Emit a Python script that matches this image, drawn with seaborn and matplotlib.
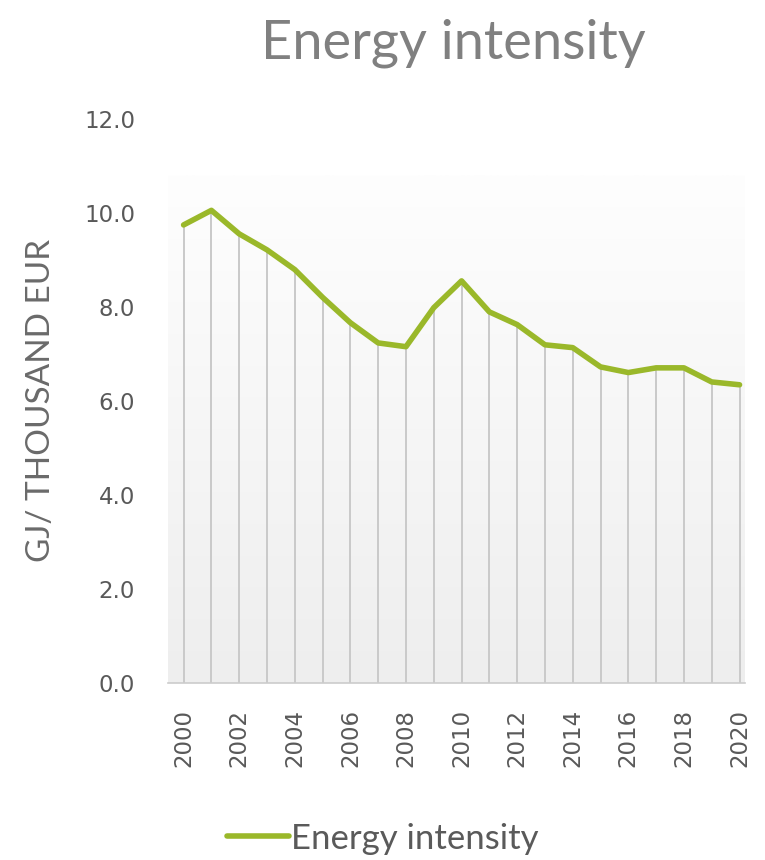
import numpy as np
import pandas as pd
import matplotlib
matplotlib.use("Agg")
import matplotlib.pyplot as plt
import seaborn as sns

years = list(range(2000, 2021))
intensity = [9.74, 10.05, 9.55, 9.21, 8.79, 8.20, 7.66, 7.23, 7.15, 7.98, 8.55,
             7.89, 7.62, 7.19, 7.13, 6.72, 6.60, 6.70, 6.70, 6.40, 6.34]
y_ticks = [0, 2, 4, 6, 8, 10, 12]
x_ticks = list(range(2000, 2021, 2))

sns.set_theme(style="white")
plt.rcParams["font.family"] = ["Lato", "DejaVu Sans"]

df = pd.DataFrame({"Year": years, "Energy intensity": intensity})

fig = plt.figure(figsize=(7.65, 8.6), dpi=100)
ax = fig.add_axes([0.22, 0.206, 0.754, 0.656])

# light gradient plot-area background
grad = np.linspace(0, 1, 256).reshape(-1, 1)
cmap = matplotlib.colors.LinearSegmentedColormap.from_list("bg", ["#eeeeee", "#fefefe"])
ax.imshow(grad, aspect="auto", cmap=cmap, origin="lower",
          extent=[1999.45, 2020.2, 0, 10.8], zorder=0)

# drop lines
ax.vlines(df["Year"], 0, df["Energy intensity"], color="#c9c9c9", lw=1.4, zorder=1)

sns.lineplot(data=df, x="Year", y="Energy intensity", ax=ax, color="#9ab82a",
             lw=4.0, label="Energy intensity", legend=False, zorder=3)

ax.set_xlim(1999.45, 2020.2)
ax.set_ylim(0, 12)
ax.set_yticks(y_ticks)
ax.set_yticklabels([f"{v:.1f}" for v in y_ticks], family="DejaVu Sans")
ax.set_xticks(x_ticks)
ax.set_xticklabels([str(x) for x in x_ticks], rotation=90, family="DejaVu Sans")
ax.tick_params(axis="y", length=0, pad=24, labelsize=16.5, labelcolor="#595959")
ax.tick_params(axis="x", length=0, pad=19, labelsize=16.5, labelcolor="#595959")

for s in ["top", "right", "left"]:
    ax.spines[s].set_visible(False)
ax.spines["bottom"].set_color("#cccccc")
ax.spines["bottom"].set_linewidth(1.2)
ax.set_facecolor("white")

ax.set_xlabel("")
ax.set_ylabel("GJ/ THOUSAND EUR", fontsize=24, color="#6a6a6a", labelpad=20)

fig.suptitle("Energy intensity", x=0.592, y=0.978, fontsize=39, color="#808080")

handles, labels = ax.get_legend_handles_labels()
fig.legend(handles, labels, loc="lower center", bbox_to_anchor=(0.5, -0.03),
           frameon=False, fontsize=25, handlelength=1.8, handletextpad=0.05,
           labelcolor="#5a5a5a")

fig.savefig("out.png", dpi=100)
